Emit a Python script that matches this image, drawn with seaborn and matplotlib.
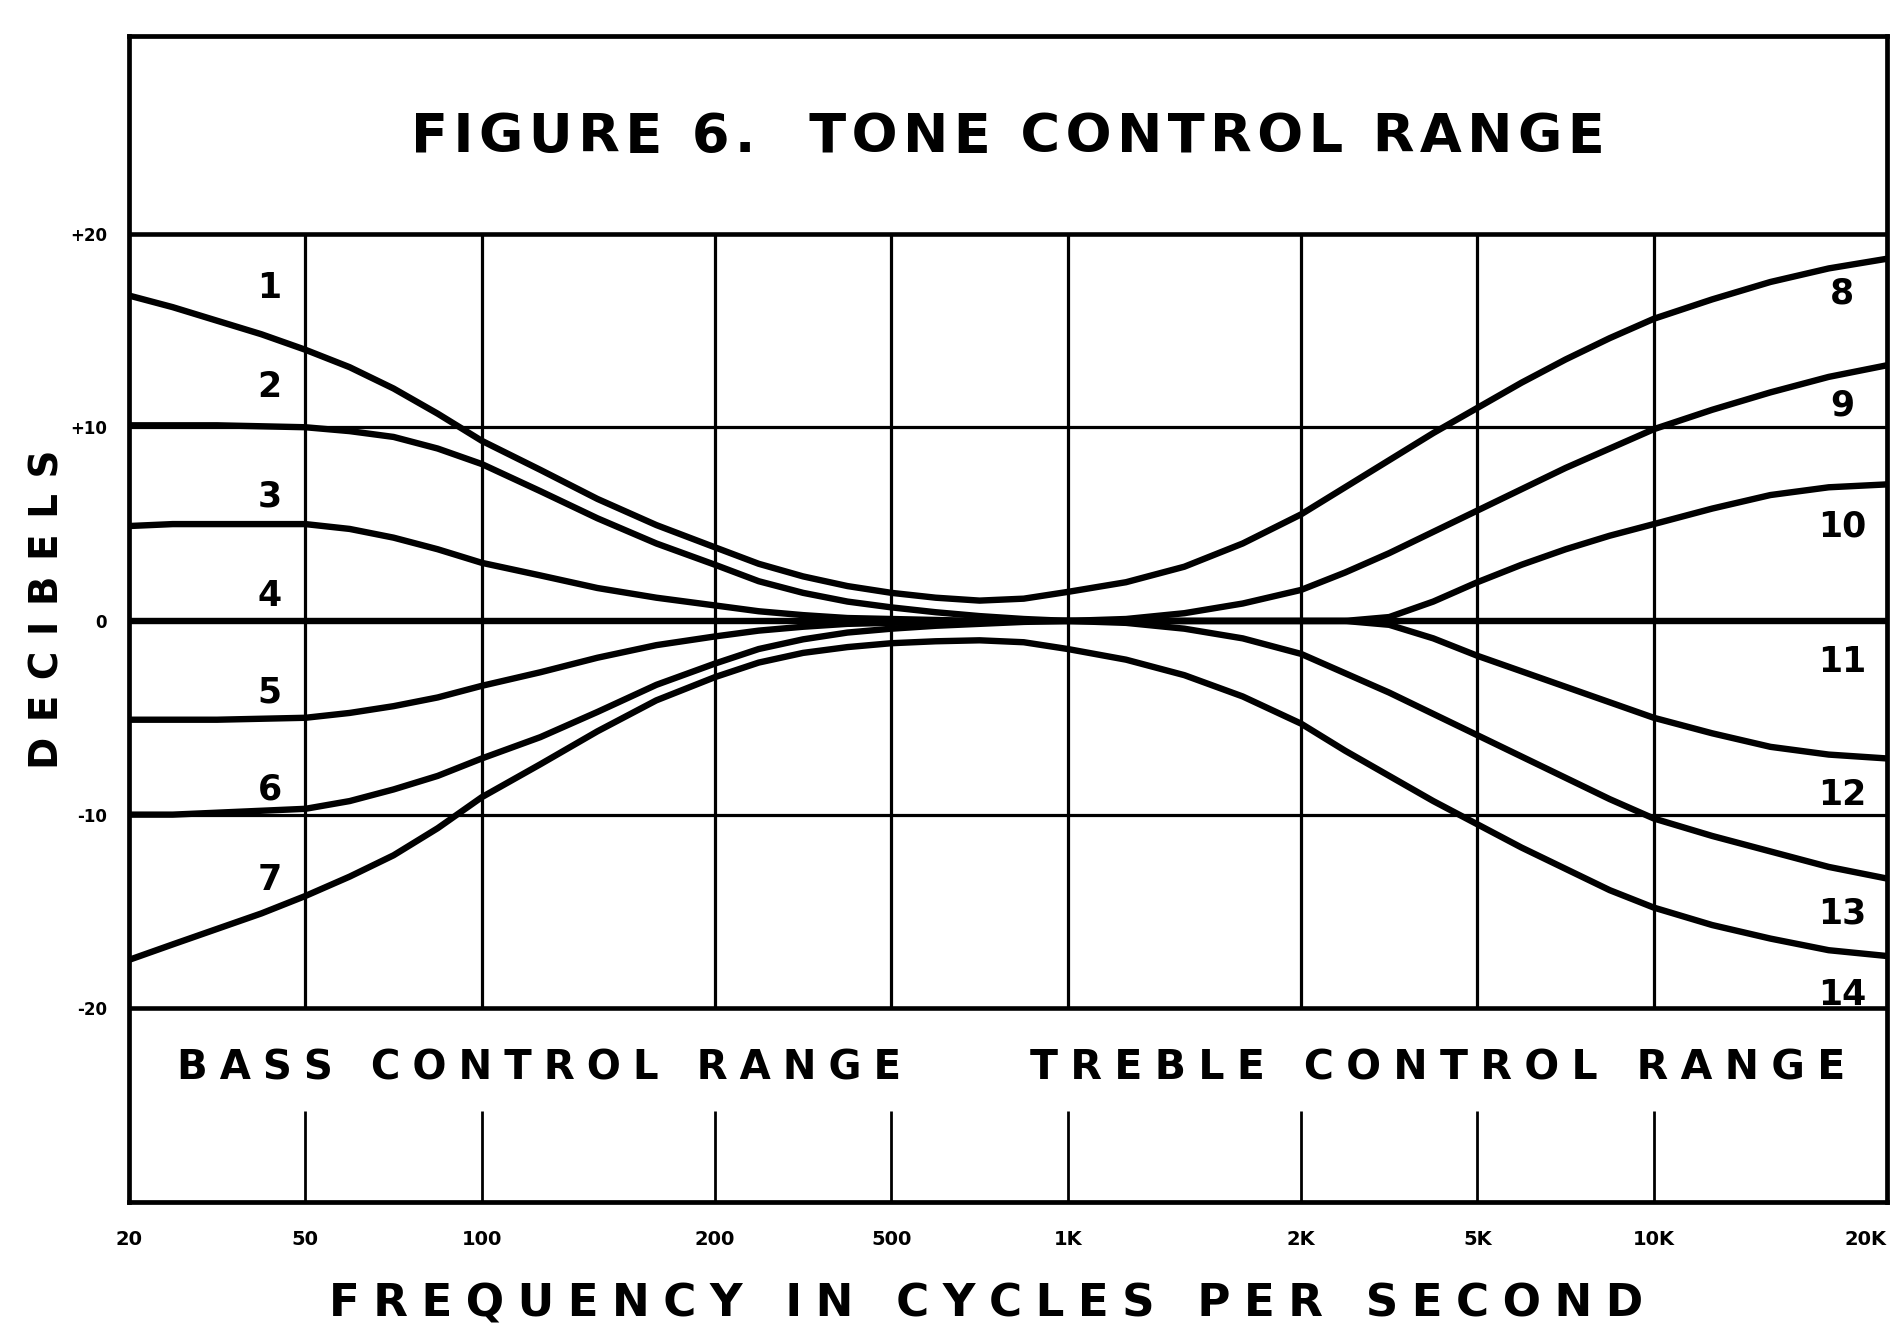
import numpy as np
import pandas as pd
import matplotlib
matplotlib.use("Agg")
import matplotlib.pyplot as plt
from matplotlib.ticker import FixedLocator, NullLocator
import seaborn as sns

# ---------------- data ----------------
TICK_FREQS = [20, 50, 100, 200, 500, 1000, 2000, 5000, 10000, 20000]
TICK_LABELS = ["20", "50", "100", "200", "500", "1K", "2K", "5K", "10K", "20K"]
Y_TICKS = [-20, -10, 0, 10, 20]
Y_TICK_LABELS = ["-20", "-10", "0", "+10", "+20"]

FREQ_BASS = [20, 25.1, 31.6, 39.8, 50, 59.5, 70.7, 84.1, 100, 119, 141, 168,
             200, 251, 316, 398, 500, 595, 707, 841, 1000]
FREQ_TREBLE = [1000, 1189, 1414, 1682, 2000, 2515, 3162, 3976, 5000, 5946,
               7071, 8409, 10000, 11892, 14142, 16818, 20000]
FREQ_FULL = FREQ_BASS + FREQ_TREBLE[1:]

curve_1_8 = [16.8, 16.2, 15.5, 14.8, 14.0, 13.1, 12.0, 10.7, 9.3, 7.8, 6.3, 4.95,
             3.8, 2.95, 2.3, 1.8, 1.45, 1.2, 1.05, 1.15, 1.5,
             2.0, 2.8, 4.0, 5.5, 6.9, 8.3, 9.7, 11.0, 12.3, 13.5, 14.6, 15.6,
             16.6, 17.5, 18.2, 18.7]
curve_7_14 = [-17.5, -16.7, -15.9, -15.1, -14.2, -13.2, -12.1, -10.7, -9.1, -7.4,
              -5.7, -4.1, -2.9, -2.15, -1.65, -1.35, -1.15, -1.05, -1.0, -1.1, -1.45,
              -2.0, -2.8, -3.9, -5.3, -6.7, -8.0, -9.3, -10.5, -11.7, -12.8,
              -13.9, -14.8, -15.7, -16.4, -17.0, -17.3]
curve_4_11 = [0.0] * len(FREQ_FULL)
curve_2 = [10.1, 10.1, 10.1, 10.05, 10.0, 9.8, 9.5, 8.9, 8.1, 6.7, 5.3, 4.0,
           2.9, 2.05, 1.45, 1.0, 0.7, 0.45, 0.25, 0.1, 0.0]
curve_3 = [4.9, 5.0, 5.0, 5.0, 5.0, 4.75, 4.3, 3.7, 3.0, 2.35, 1.7, 1.2,
           0.8, 0.5, 0.3, 0.15, 0.1, 0.05, 0.0, 0.0, 0.0]
curve_5 = [-5.1, -5.1, -5.1, -5.05, -5.0, -4.75, -4.4, -3.95, -3.35, -2.65, -1.9,
           -1.25, -0.8, -0.5, -0.3, -0.15, -0.1, -0.05, 0.0, 0.0, 0.0]
curve_6 = [-10.0, -10.0, -9.9, -9.8, -9.7, -9.3, -8.7, -8.0, -7.1, -6.0, -4.7, -3.3,
           -2.2, -1.45, -0.95, -0.6, -0.4, -0.25, -0.15, -0.05, 0.0]
curve_9 = [0.0, 0.1, 0.4, 0.9, 1.6, 2.5, 3.5, 4.6, 5.7, 6.8, 7.9, 8.9, 9.9,
           10.9, 11.8, 12.6, 13.2]
curve_10 = [0.0, 0.0, 0.0, 0.0, 0.0, 0.0, 0.2, 1.0, 2.0, 2.9, 3.7, 4.4, 5.0,
            5.8, 6.5, 6.9, 7.05]
curve_12 = [0.0, 0.0, 0.0, 0.0, 0.0, 0.0, -0.2, -0.9, -1.8, -2.6, -3.4, -4.2, -5.0,
            -5.8, -6.5, -6.9, -7.1]
curve_13 = [0.0, -0.1, -0.4, -0.9, -1.7, -2.7, -3.7, -4.8, -5.9, -7.0, -8.1, -9.2,
            -10.2, -11.1, -11.9, -12.7, -13.3]

LEFT_LABELS = ["1", "2", "3", "4", "5", "6", "7"]
RIGHT_LABELS = ["8", "9", "10", "11", "12", "13", "14"]

TITLE = "FIGURE 6.  TONE CONTROL RANGE"
BASS_TEXT = "BASS CONTROL RANGE"
TREBLE_TEXT = "TREBLE CONTROL RANGE"
X_LABEL = "FREQUENCY IN CYCLES PER SECOND"
Y_LABEL = "DECIBELS"

# ---------------- layout ----------------
# positions (in decades from the left edge) at which the printed labels sit
LABEL_POS = np.log10([1, 2, 4, 10, 20, 40, 100, 200, 400, 1000])
LOGF = np.log10(TICK_FREQS)


def fwd(f):
    f = np.clip(np.asarray(f, dtype=float), 1e-6, None)
    return np.interp(np.log10(f), LOGF, LABEL_POS, left=np.nan, right=np.nan)


def inv(p):
    p = np.asarray(p, dtype=float)
    return 10 ** np.interp(p, LABEL_POS, LOGF)


def spaced(s, sp):
    return sp.join(s)


series = [("1-8", FREQ_FULL, curve_1_8), ("7-14", FREQ_FULL, curve_7_14),
          ("4-11", FREQ_FULL, curve_4_11), ("2", FREQ_BASS, curve_2),
          ("3", FREQ_BASS, curve_3), ("5", FREQ_BASS, curve_5),
          ("6", FREQ_BASS, curve_6), ("9", FREQ_TREBLE, curve_9),
          ("10", FREQ_TREBLE, curve_10), ("12", FREQ_TREBLE, curve_12),
          ("13", FREQ_TREBLE, curve_13)]
rows = []
for name, fr, vals in series:
    for f, v in zip(fr, vals):
        rows.append({"curve": name, "freq": f, "db": v})
df = pd.DataFrame(rows)

sns.set_style("white")
plt.rcParams["font.family"] = ["DejaVu Sans"]
plt.rcParams["font.weight"] = "bold"
for k in ["text.color", "axes.labelcolor", "xtick.color", "ytick.color"]:
    plt.rcParams[k] = "black"

W, H = 1891, 1324
fig = plt.figure(figsize=(W / 100, H / 100), dpi=100)
ax = fig.add_axes([129 / W, 1 - 1202 / H, (1887 - 129) / W, (1202 - 36) / H])
ax.set_xscale("function", functions=(fwd, inv))
ax.set_xlim(20, 20000)
ax.set_ylim(-30, 30.2)

# grid
ax.hlines([-10, 10], 20, 20000, color="black", lw=2.3, zorder=1)
ax.hlines([-20, 20], 20, 20000, color="black", lw=3.3, zorder=1)
ax.hlines([0], 20, 20000, color="black", lw=2.3, zorder=1)
ax.vlines(TICK_FREQS[1:-1], -20, 20, color="black", lw=2.3, zorder=1)
ax.vlines(TICK_FREQS[1:-1], -30, -25.3, color="black", lw=2.0, zorder=1)

sns.lineplot(data=df, x="freq", y="db", hue="curve",
             palette=["black"] * len(series), estimator=None, legend=False,
             lw=4.6, ax=ax, zorder=3, sort=True)

for s in ax.spines.values():
    s.set_visible(True)
    s.set_linewidth(3.4)
    s.set_color("black")

ax.xaxis.set_major_locator(FixedLocator(TICK_FREQS))
ax.xaxis.set_minor_locator(NullLocator())
ax.set_xticklabels(TICK_LABELS, fontsize=14, fontweight="bold")
ax.get_xticklabels()[-1].set_horizontalalignment("right")
ax.set_yticks(Y_TICKS)
ax.set_yticklabels(Y_TICK_LABELS, fontsize=12, fontweight="bold")
ax.tick_params(axis="both", length=0)
ax.tick_params(axis="x", pad=20)
ax.tick_params(axis="y", pad=16)
ax.set_xlabel("")
ax.set_ylabel("")

# curve numbers
left_y = [17.2, 12.1, 6.4, 1.3, -3.7, -8.7, -13.4]
right_y = [16.9, 11.1, 4.85, -2.1, -9.0, -15.1, -19.3]
for lab, y in zip(LEFT_LABELS, left_y):
    ax.text(41.5, y, lab, ha="center", va="center", fontsize=25,
            fontweight="bold", zorder=5)
for lab, y in zip(RIGHT_LABELS, right_y):
    ax.text(17500, y, lab, ha="center", va="center", fontsize=25,
            fontweight="bold", zorder=5)

yx = ax.get_yaxis_transform()
ax.text(0.5, 25.0, spaced(TITLE, "\u200a"), transform=yx, ha="center",
        va="center", fontsize=39, fontweight="bold")
ax.text(0.0274, -23.1, spaced(BASS_TEXT, "\u2009\u200a"), transform=yx,
        ha="left", va="center", fontsize=29, fontweight="bold")
ax.text(0.976, -23.1, spaced(TREBLE_TEXT, "\u2009\u200a"), transform=yx,
        ha="right", va="center", fontsize=29.5, fontweight="bold")

fig.text(986 / W, 1 - 1304 / H, spaced(X_LABEL, "\u2009\u200a"), ha="center",
         va="center", fontsize=32.5, fontweight="bold")
fig.text(48 / W, 1 - 609 / H, spaced(Y_LABEL, "\u2009\u2009"), ha="center",
         va="center", rotation=90, fontsize=28, fontweight="bold")

fig.savefig("out.png", dpi=100, facecolor="white")
